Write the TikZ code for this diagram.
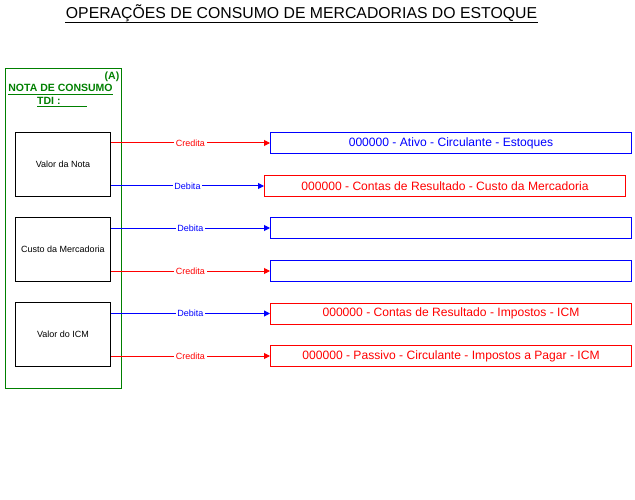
\documentclass[tikz,border=0pt]{standalone}
\usepackage{fontspec}
\setmainfont{Liberation Sans}
\usetikzlibrary{arrows.meta}
\definecolor{dgreen}{RGB}{0,128,0}
\definecolor{bblue}{RGB}{0,0,255}
\definecolor{rred}{RGB}{255,0,0}
\tikzset{
  every node/.style={font=\fontsize{9}{10}\selectfont, inner sep=0pt},
  src/.style={draw=black, line width=1pt, minimum width=95pt, minimum height=64pt, anchor=north west},
  acct/.style={line width=1pt, minimum width=361pt, minimum height=21pt, anchor=north west, font=\fontsize{12.1}{14}\selectfont},
  bacct/.style={acct, draw=bblue, text=bblue},
  racct/.style={acct, draw=rred, text=rred},
  conn/.style={line width=1pt, -{Triangle[length=6pt,width=6pt]}},
  lab/.style={fill=white, inner xsep=1.5pt, inner ysep=1pt, font=\fontsize{9}{10}\selectfont},
  greentxt/.style={text=dgreen, font=\bfseries\fontsize{10.5}{12}\selectfont}
}
\begin{document}
\begin{tikzpicture}[x=1pt,y=-1pt]
\useasboundingbox (0,0) rectangle (635,500);
% title
\node[font=\fontsize{15.8}{17}\selectfont, anchor=base] (title) at (301.5,19) {OPERAÇÕES DE CONSUMO DE MERCADORIAS DO ESTOQUE};
\draw[line width=1pt] (65,22.5) -- (538,22.5);
% green frame
\node[draw=dgreen, line width=1pt, minimum width=116pt, minimum height=320pt, anchor=north west] (frame) at (5,68) {};
\node[greentxt, anchor=base east] (tagA) at (119.5,79.5) {(A)};
\node[greentxt, anchor=base] (nota) at (60.5,92) {NOTA DE CONSUMO};
\draw[dgreen, line width=1pt] (8,94.5) -- (113,94.5);
\node[greentxt, anchor=base west] (tdi) at (37,104.5) {TDI :};
\draw[dgreen, line width=1pt] (37,106.5) -- (87,106.5);
% source boxes
\node[src] (vn) at (15,132) {Valor da Nota};
\node[src] (cm) at (15,217) {Custo da Mercadoria};
\node[src] (vi) at (15,302) {Valor do ICM};
% account boxes
\node[bacct] (a1) at (270,132) {000000 - Ativo - Circulante - Estoques};
\node[racct] (a2) at (264,175) {000000 - Contas de Resultado - Custo da Mercadoria};
\node[bacct] (a3) at (270,217) {};
\node[bacct] (a4) at (270,260) {};
\node[racct] (a5) at (270,302.5) {000000 - Contas de Resultado - Impostos - ICM};
\node[racct] (a6) at (270,345) {000000 - Passivo - Circulante - Impostos a Pagar - ICM};
% connectors
\draw[conn, rred] (vn.east |- a1.west) -- node[lab, text=rred] {Credita} (a1.west);
\draw[conn, bblue] (vn.east |- a2.west) -- node[lab, text=bblue] {Debita} (a2.west);
\draw[conn, bblue] (cm.east |- a3.west) -- node[lab, text=bblue] {Debita} (a3.west);
\draw[conn, rred] (cm.east |- a4.west) -- node[lab, text=rred] {Credita} (a4.west);
\draw[conn, bblue] (vi.east |- a5.west) -- node[lab, text=bblue] {Debita} (a5.west);
\draw[conn, rred] (vi.east |- a6.west) -- node[lab, text=rred] {Credita} (a6.west);
\end{tikzpicture}
\end{document}
